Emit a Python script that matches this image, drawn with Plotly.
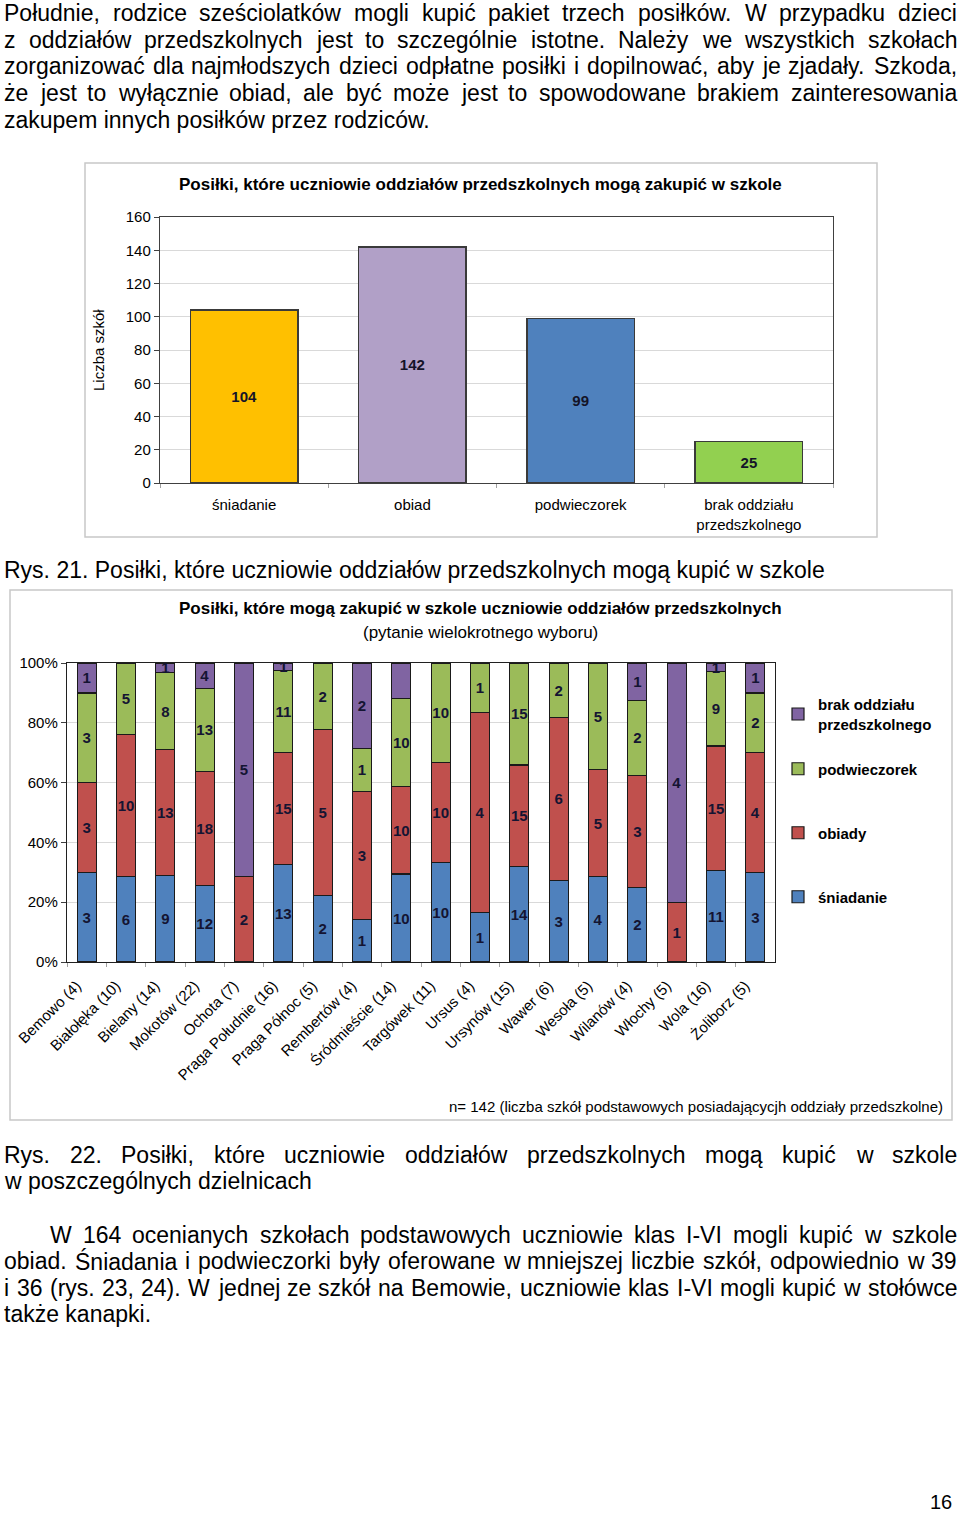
import plotly.graph_objects as go

W, H = 960, 1519
FONT = "Liberation Sans, Arial, sans-serif"

# ---------------- data: chart 1 ----------------
meal_cats = ["śniadanie", "obiad", "podwieczorek", "brak oddziału<br>przedszkolnego"]
meal_counts = [104, 142, 99, 25]
meal_colors = ["#FFC000", "#B1A0C7", "#4F81BD", "#92D050"]
y1_ticks = [0, 20, 40, 60, 80, 100, 120, 140, 160]

# ---------------- data: chart 2 ----------------
districts = ["Bemowo (4)", "Białołęka (10)", "Bielany (14)", "Mokotów (22)", "Ochota (7)",
             "Praga Południe (16)", "Praga Północ (5)", "Rembertów (4)", "Śródmieście (14)",
             "Targówek (11)", "Ursus (4)", "Ursynów (15)", "Wawer (6)", "Wesoła (5)",
             "Wilanów (4)", "Włochy (5)", "Wola (16)", "Żoliborz (5)"]
sniadanie = [3, 6, 9, 12, 0, 13, 2, 1, 10, 10, 1, 14, 3, 4, 2, 0, 11, 3]
obiady = [3, 10, 13, 18, 2, 15, 5, 3, 10, 10, 4, 15, 6, 5, 3, 1, 15, 4]
podwieczorek = [3, 5, 8, 13, 0, 11, 2, 1, 10, 10, 1, 15, 2, 5, 2, 0, 9, 2]
brak = [1, 0, 1, 4, 5, 1, 0, 2, 4, 0, 0, 0, 0, 0, 1, 4, 1, 1]
series_names = ["śniadanie", "obiady", "podwieczorek", "brak oddziału<br>przedszkolnego"]
series_colors = ["#4F81BD", "#C0504D", "#9BBB59", "#8064A2"]
y2_ticks = [0, 20, 40, 60, 80, 100]
y2_ticktext = ["0%", "20%", "40%", "60%", "80%", "100%"]

# ---------------- page text ----------------
para1 = [
    ("Południe, rodzice sześciolatków mogli kupić pakiet trzech posiłków. W przypadku dzieci", 13, 4, True),
    ("z oddziałów przedszkolnych jest to szczególnie istotne. Należy we wszystkich szkołach", 40, 4, True),
    ("zorganizować dla najmłodszych dzieci odpłatne posiłki i dopilnować, aby je zjadały. Szkoda,", 66, 4, True),
    ("że jest to wyłącznie obiad, ale być może jest to spowodowane brakiem zainteresowania", 93, 4, True),
    ("zakupem innych posiłków przez rodziców.", 120, 4, False),
    ("Rys. 21. Posiłki, które uczniowie oddziałów przedszkolnych mogą kupić w szkole", 570, 4, False),
    ("Rys. 22. Posiłki, które uczniowie oddziałów przedszkolnych mogą kupić w szkole", 1155, 4, True),
    ("w poszczególnych dzielnicach", 1181, 4, False),
    ("W 164 ocenianych szkołach podstawowych uczniowie klas I-VI mogli kupić w szkole", 1235, 50, True),
    ("obiad. Śniadania i podwieczorki były oferowane w mniejszej liczbie szkół, odpowiednio w 39", 1261, 4, True),
    ("i 36 (rys. 23, 24). W jednej ze szkół na Bemowie, uczniowie klas I-VI mogli kupić w stołówce", 1288, 4, True),
    ("także kanapki.", 1314, 4, False),
]

# Arial / Liberation Sans advance widths (1/1000 em)
CW = {' ': 278, 'a': 556, 'b': 556, 'c': 500, 'd': 556, 'e': 556, 'f': 278, 'g': 556, 'h': 556,
      'i': 222, 'j': 222, 'k': 500, 'l': 222, 'm': 833, 'n': 556, 'o': 556, 'p': 556, 'q': 556,
      'r': 333, 's': 500, 't': 278, 'u': 556, 'v': 500, 'w': 722, 'x': 500, 'y': 500, 'z': 500,
      'A': 667, 'B': 667, 'C': 722, 'D': 722, 'E': 667, 'F': 611, 'G': 778, 'H': 722, 'I': 278,
      'J': 500, 'K': 667, 'L': 556, 'M': 833, 'N': 722, 'O': 778, 'P': 667, 'Q': 778, 'R': 722,
      'S': 667, 'T': 611, 'U': 722, 'V': 667, 'W': 944, 'X': 667, 'Y': 667, 'Z': 611,
      '.': 278, ',': 278, '(': 333, ')': 333, '-': 333, ':': 278,
      'ą': 556, 'ć': 500, 'ę': 556, 'ł': 222, 'ń': 556, 'ó': 556, 'ś': 500, 'ź': 500, 'ż': 500,
      'Ś': 667, 'Ż': 611, 'Ł': 556}
for d in "0123456789":
    CW[d] = 556

BODY_FS = 23
annotations = []


def px(x):
    return x / W


def py(y):
    return 1 - y / H


def text_w(s, fs):
    return sum(CW.get(c, 556) for c in s) * fs / 1000.0


def ann(text, x, y, fs, xanchor="left", bold=False, angle=0, color="black"):
    annotations.append(dict(text=text, x=px(x), y=py(y), xref="paper", yref="paper",
                            xanchor=xanchor, yanchor="middle", showarrow=False,
                            textangle=angle, borderpad=0, borderwidth=0,
                            font=dict(family=FONT, size=fs, color=color,
                                      weight="bold" if bold else "normal")))


for line, y, x0, just in para1:
    words = line.split(" ")
    if just and len(words) > 1:
        widths = [text_w(w, BODY_FS) for w in words]
        gap = (957 - x0 - sum(widths)) / (len(words) - 1)
        x = x0
        for w, wd in zip(words, widths):
            ann(w, x, y, BODY_FS)
            x += wd + gap
    else:
        ann(line, x0, y, BODY_FS)

ann("16", 952, 1502, 20, xanchor="right")

# chart titles and notes
ann("Posiłki, które uczniowie oddziałów przedszkolnych mogą zakupić w szkole", 480, 184, 17,
    xanchor="center", bold=True)
ann("Liczba szkół", 98, 350, 15, xanchor="center", angle=-90)
ann("Posiłki, które mogą zakupić w szkole uczniowie oddziałów przedszkolnych", 480, 608, 17,
    xanchor="center", bold=True)
ann("(pytanie wielokrotnego wyboru)", 480, 632, 17, xanchor="center")
ann("n= 142 (liczba szkół podstawowych posiadającycjh oddziały przedszkolne)", 943, 1106, 15,
    xanchor="right")

fig = go.Figure()

# chart 1
fig.add_trace(go.Bar(
    x=meal_cats, y=meal_counts, xaxis="x", yaxis="y", width=0.64,
    marker=dict(color=meal_colors, line=dict(color="#3A3A3A", width=1.5)),
    text=[str(v) for v in meal_counts], textposition="inside", insidetextanchor="middle",
    textangle=0, constraintext="none",
    insidetextfont=dict(family=FONT, size=15, color="#141428", weight="bold"),
    showlegend=False, hoverinfo="skip"))

# chart 2 (100% stacked, shares computed from counts)
series = [sniadanie, obiady, podwieczorek, brak]
totals = [sum(v) for v in zip(*series)]
legend_ids = ["legend", "legend2", "legend3", "legend4"]
for name, vals, col, lid in zip(series_names, series, series_colors, legend_ids):
    shares = [v / t * 100 for v, t in zip(vals, totals)]
    fig.add_trace(go.Bar(
        x=districts, y=shares, xaxis="x2", yaxis="y2", width=0.48, name="<b>" + name + "</b>",
        legend=lid,
        marker=dict(color=col, line=dict(color="#1A1A1A", width=1.2)),
        text=[str(v) if v else "" for v in vals], textposition="inside",
        insidetextanchor="middle", textangle=0, constraintext="none", cliponaxis=False,
        insidetextfont=dict(family=FONT, size=15, color="#141432", weight="bold"),
        hoverinfo="skip"))

shapes = [
    dict(type="rect", xref="paper", yref="paper", x0=px(85), x1=px(877), y0=py(537), y1=py(163),
         line=dict(color="#C8C8C8", width=1.5), layer="below"),
    dict(type="rect", xref="paper", yref="paper", x0=px(10), x1=px(952), y0=py(1120), y1=py(590),
         line=dict(color="#C8C8C8", width=1.5), layer="below"),
]

axis_font = dict(family=FONT, size=15, color="black")
leg_common = dict(x=px(778), xanchor="left", yanchor="middle",
                  font=dict(family=FONT, size=15, color="black"),
                  bgcolor="rgba(0,0,0,0)", itemclick=False, itemdoubleclick=False)

fig.update_layout(
    template="none",
    width=W, height=H, margin=dict(l=0, r=0, t=0, b=0),
    paper_bgcolor="white", plot_bgcolor="white",
    barmode="stack", uniformtext=dict(mode=False),
    font=dict(family=FONT, color="black"),
    annotations=annotations, shapes=shapes,
    xaxis=dict(domain=[px(160), px(833)], anchor="y", type="category", showgrid=False,
               showline=True, linecolor="#404040", linewidth=1.2, mirror=True,
               ticks="outside", tickson="boundaries", ticklen=4, tickcolor="#A0A0A0",
               ticklabelstandoff=8,
               tickfont=axis_font, automargin=False, fixedrange=True),
    yaxis=dict(domain=[py(483), py(217)], anchor="x", range=[0, 160], tickvals=y1_ticks,
               showgrid=True, gridcolor="#D9D9D9", zeroline=False,
               showline=True, linecolor="#404040", linewidth=1.2, mirror=True,
               ticks="outside", ticklen=5, tickcolor="#404040",
               tickfont=axis_font, automargin=False, fixedrange=True),
    xaxis2=dict(domain=[px(67), px(775)], anchor="y2", type="category", showgrid=False,
                showline=True, linecolor="#202020", linewidth=1.2, mirror=True,
                ticks="outside", tickson="boundaries", ticklen=4, tickcolor="#A0A0A0",
                tickangle=-45, ticklabelstandoff=8, ticklabelshift=-10,
                tickfont=axis_font, automargin=False, fixedrange=True),
    yaxis2=dict(domain=[py(962), py(663)], anchor="x2", range=[0, 100], tickvals=y2_ticks,
                ticktext=y2_ticktext, showgrid=True, gridcolor="#D9D9D9", zeroline=False,
                showline=True, linecolor="#202020", linewidth=1.2, mirror=True,
                ticks="outside", ticklen=5, tickcolor="#404040",
                tickfont=axis_font, automargin=False, fixedrange=True),
    legend=dict(y=py(897), **leg_common),
    legend2=dict(y=py(833), **leg_common),
    legend3=dict(y=py(769), **leg_common),
    legend4=dict(y=py(714), **leg_common),
)

fig.write_html("out.html", config={"displayModeBar": False, "staticPlot": True},
               post_script="document.body.style.margin='0';document.body.style.overflow='hidden';")
